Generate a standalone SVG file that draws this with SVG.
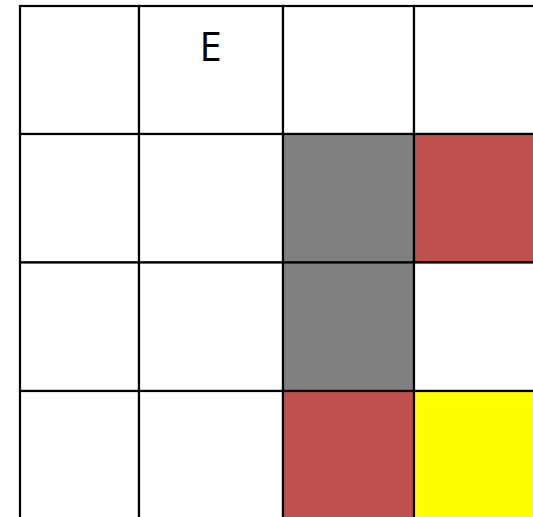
<svg xmlns="http://www.w3.org/2000/svg" width="533" height="517" viewBox="0 0 533 517">
<style>
.c{fill:#ffffff;stroke:#000000;stroke-width:2.2}
.g{fill:#808080}
.r{fill:#C0504D}
.y{fill:#FFFF00}
.t{font-family:"Open Sans","Liberation Sans",sans-serif;font-size:40px;fill:#000000}
</style>
<rect width="533" height="517" fill="#ffffff"/>
<g id="row0">
<rect id="c00" class="c" x="20" y="6" width="119" height="128"/>
<g id="c01"><rect class="c" x="139" y="6" width="144" height="128"/><text class="t" x="210.5" y="61" text-anchor="middle">E</text></g>
<rect id="c02" class="c" x="283" y="6" width="131" height="128"/>
<rect id="c03" class="c" x="414" y="6" width="140" height="128"/>
</g>
<g id="row1">
<rect id="c10" class="c" x="20" y="134" width="119" height="128.5"/>
<rect id="c11" class="c" x="139" y="134" width="144" height="128.5"/>
<rect id="c12" class="c g" x="283" y="134" width="131" height="128.5"/>
<rect id="c13" class="c r" x="414" y="134" width="140" height="128.5"/>
</g>
<g id="row2">
<rect id="c20" class="c" x="20" y="262.5" width="119" height="128.5"/>
<rect id="c21" class="c" x="139" y="262.5" width="144" height="128.5"/>
<rect id="c22" class="c g" x="283" y="262.5" width="131" height="128.5"/>
<rect id="c23" class="c" x="414" y="262.5" width="140" height="128.5"/>
</g>
<g id="row3">
<rect id="c30" class="c" x="20" y="391" width="119" height="140"/>
<rect id="c31" class="c" x="139" y="391" width="144" height="140"/>
<rect id="c32" class="c r" x="283" y="391" width="131" height="140"/>
<rect id="c33" class="c y" x="414" y="391" width="140" height="140"/>
</g>
<g id="connectors"/>
</svg>
